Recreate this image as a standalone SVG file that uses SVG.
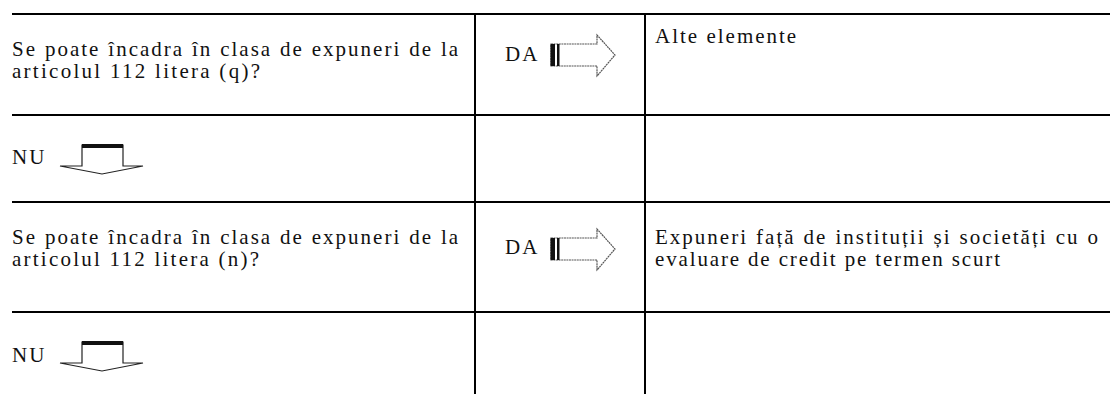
<svg xmlns="http://www.w3.org/2000/svg" width="1112" height="394" viewBox="0 0 1112 394">
<style>
.t{font-family:"Liberation Serif","Times New Roman",serif;font-size:21px;fill:#111;letter-spacing:2px}
.g{stroke:#000;stroke-width:2;fill:none}
.ar{fill:#fff;stroke:#555;stroke-width:1.2;stroke-dasharray:2 0.6}
.nd{fill:#fff;stroke:#222;stroke-width:1.2}
.bar{fill:#111}
</style>
<defs>
<g id="arR">
<polygon class="ar" points="551,44 597,44 597,35 615,55 597,76 597,66 551,66"/>
<rect class="bar" x="550.5" y="44" width="4.5" height="22"/>
<rect class="bar" x="557" y="44" width="2.5" height="22"/>
</g>
<g id="arD">
<polygon class="nd" points="82,342 123,342 123,363 143,363 102,371 60,363 82,363"/>
<rect class="bar" x="82" y="341" width="41" height="4"/>
</g>
</defs>
<rect width="1112" height="394" fill="#fff"/>
<g id="grid">
<path class="g" d="M12 14H1110M12 115H1110M12 202H1110M12 312H1110M475 14V394M645 14V394"/>
</g>
<g id="q1">
<text class="t" y="56"><tspan x="12">Se</tspan><tspan x="44.9">poate</tspan><tspan x="108.3">încadra</tspan><tspan x="192">în</tspan><tspan x="220.2">clasa</tspan><tspan x="280.1">de</tspan><tspan x="311.8">expuneri</tspan><tspan x="409.2">de</tspan><tspan x="440.9">la</tspan></text>
<text class="t" x="12" y="78" textLength="250" lengthAdjust="spacing">articolul 112 litera (q)?</text>
</g>
<g id="da1"><text class="t" x="505" y="61">DA</text></g>
<g id="r1"><text class="t" x="655" y="43">Alte elemente</text></g>
<g id="nu1"><text class="t" x="12" y="164">NU</text></g>
<g id="q2">
<text class="t" y="244"><tspan x="12">Se</tspan><tspan x="44.9">poate</tspan><tspan x="108.3">încadra</tspan><tspan x="192">în</tspan><tspan x="220.2">clasa</tspan><tspan x="280.1">de</tspan><tspan x="311.8">expuneri</tspan><tspan x="409.2">de</tspan><tspan x="440.9">la</tspan></text>
<text class="t" x="12" y="266" textLength="249" lengthAdjust="spacing">articolul 112 litera (n)?</text>
</g>
<g id="da2"><text class="t" x="505" y="254">DA</text></g>
<g id="r2">
<text class="t" y="244"><tspan x="655">Expuneri</tspan><tspan x="756.1">față</tspan><tspan x="803.6">de</tspan><tspan x="835.5">instituții</tspan><tspan x="933.6">și</tspan><tspan x="959.6">societăți</tspan><tspan x="1055.7">cu</tspan><tspan x="1087.5">o</tspan></text>
<text class="t" x="655" y="266" textLength="347" lengthAdjust="spacing">evaluare de credit pe termen scurt</text>
</g>
<g id="nu2"><text class="t" x="12" y="362">NU</text></g>
<g id="connectors">
<use id="a-da1" href="#arR"/>
<use id="a-da2" href="#arR" transform="translate(0,194)"/>
<use id="a-nu1" href="#arD" transform="translate(0,-197)"/>
<use id="a-nu2" href="#arD"/>
</g>
</svg>
